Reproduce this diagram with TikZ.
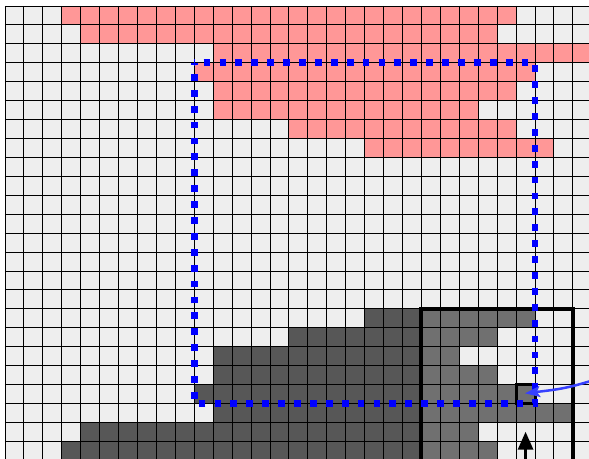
\documentclass[tikz,border=0pt]{standalone}
\usetikzlibrary{arrows.meta}
\definecolor{lightcell}{HTML}{EEEEEE}
\definecolor{pinkcell}{HTML}{FF9797}
\definecolor{darkcell}{HTML}{575757}
\definecolor{midcell}{HTML}{707070}
\definecolor{arrowblue}{RGB}{55,65,255}
\begin{document}
\begin{tikzpicture}[x=18.93pt,y=-18.93pt,
  gridline/.style={black,line width=1.4pt},
  bluedots/.style={blue,line width=6.8pt,dash pattern=on 6.8pt off 9.1pt,dash phase=6.5pt},
  bigbox/.style={black,line width=4pt},
  smallbox/.style={black,line width=3pt,fill=midcell},
  pointer/.style={arrowblue,line width=2.5pt,-{Stealth[length=15pt,width=11pt,inset=3pt]}},
  uparrow/.style={black,line width=3pt,-{Triangle[length=18pt,width=15pt]}}]
\clip (-0.2641,-0.3170) rectangle (30.851,23.930);
\fill[white] (-1,-1) rectangle (32,25);
\fill[lightcell] (0,0) rectangle (31.5,24.5);
% pink region
\foreach \r/\a/\b in {0/3/26,1/4/25,2/11/30,3/10/27,4/11/26,5/11/24,6/15/26,7/19/28}
  \fill[pinkcell] (\a,\r) rectangle (\b+1,\r+1);
% dark region
\foreach \r/\a/\b in {16/19/21,17/15/21,18/11/21,19/11/21,20/10/21,21/11/21,22/4/21,23/3/21}
  \fill[darkcell] (\a,\r) rectangle (\b+1,\r+1);
% medium region
\foreach \r/\a/\b in {16/22/27,17/22/25,18/22/23,19/22/25,20/22/27,21/22/29,22/22/24,23/22/25}
  \fill[midcell] (\a,\r) rectangle (\b+1,\r+1);
% grid (snapped to pixel centres)
\foreach \i in {0,...,31} {
  \pgfmathsetmacro\xx{(floor(5+18.93*\i)+0.5-5)/18.93}
  \draw[gridline] (\xx,0) -- (\xx,24.5);
}
\foreach \j in {0,...,24} {
  \pgfmathsetmacro\yy{(floor(6+18.93*\j)+0.5-6)/18.93}
  \draw[gridline] (0,\yy) -- (31.5,\yy);
}
% boxes
\draw[bigbox] (22,16) rectangle (30,25);
\node[smallbox,draw,minimum size=18.93pt,inner sep=0pt] (cell) at (27.5,20.5) {};
% dotted window
\coordinate (wtl) at (10,3);
\coordinate (wtr) at (28,3);
\coordinate (wbr) at (28,21);
\coordinate (wbl) at (10,21);
\draw[bluedots] (wtl) -- (wtr) -- (wbr) -- (wbl) -- cycle;
% arrows
\coordinate (bluesrc) at (34.07,18.81);
\coordinate (bluectl) at (29.85,20.18);
\coordinate (bluetip) at (27.47,20.46);
\draw[pointer] (bluesrc) .. controls (bluectl) .. (bluetip);
\coordinate (upsrc) at (27.5,24.6);
\coordinate (uptip) at (27.5,22.49);
\draw[uparrow] (upsrc) -- (uptip);
\end{tikzpicture}
\end{document}
